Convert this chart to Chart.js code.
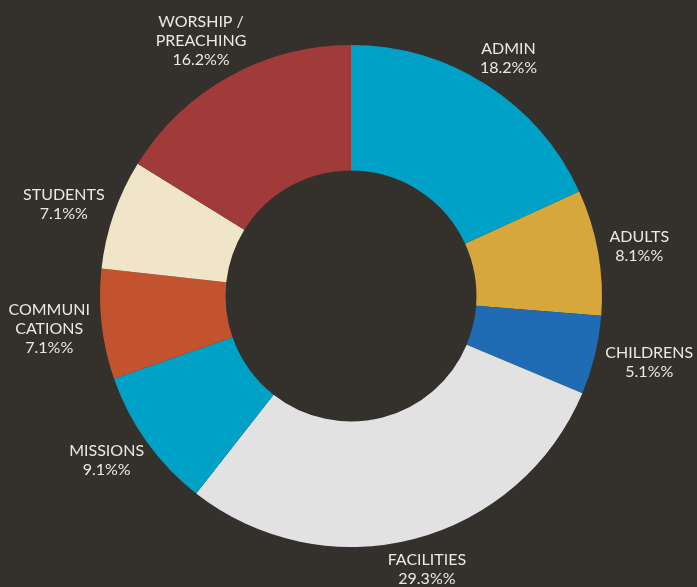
<!DOCTYPE html>
<html>
<head>
<meta charset="utf-8">
<script src="https://cdn.jsdelivr.net/npm/chart.js@4"></script>
<style>
  html, body { margin: 0; padding: 0; background: #34312c; }
  #wrap { width: 697px; height: 587px; position: relative; }
</style>
</head>
<body>
<div id="wrap"><canvas id="budgetChart"></canvas></div>
<script>
const categories = [['ADMIN'], ['ADULTS'], ['CHILDRENS'], ['FACILITIES'], ['MISSIONS'], ['COMMUNI', 'CATIONS'], ['STUDENTS'], ['WORSHIP /', 'PREACHING']];
const shares = [18.2, 8.1, 5.1, 29.3, 9.1, 7.1, 7.1, 16.2];
const sliceColors = ['#00a1c6', '#d6a83b', '#1f6cb4', '#e2e2e2', '#00a1c6', '#c3532f', '#f0e4c9', '#a03b3a'];

// draws "NAME\nxx.x%%" labels outside each slice
const outerLabels = {
    id: 'outerLabels',
    afterDatasetsDraw(chart) {
        const ctx = chart.ctx;
        const meta = chart.getDatasetMeta(0);
        const lineH = 19;
        ctx.save();
        ctx.font = '16px Lato';
        ctx.fillStyle = '#ebe9e4';
        ctx.textAlign = 'center';
        ctx.textBaseline = 'middle';
        meta.data.forEach((arc, i) => {
            const lines = categories[i].concat([shares[i].toFixed(1) + '%%']);
            const mid = (arc.startAngle + arc.endAngle) / 2;
            const r = arc.outerRadius + 12;
            const w = Math.max(...lines.map(l => ctx.measureText(l).width));
            const h = lines.length * lineH;
            const cx = arc.x + Math.cos(mid) * r + Math.cos(mid) * w / 2;
            const cy = arc.y + Math.sin(mid) * r + Math.sin(mid) * h / 2;
            lines.forEach((l, k) => {
                ctx.fillText(l, cx, cy - h / 2 + lineH / 2 + k * lineH);
            });
        });
        ctx.restore();
    }
};

const ctx = document.getElementById('budgetChart').getContext('2d');
new Chart(ctx, {
    type: 'doughnut',
    data: {
        labels: categories.map(c => c.join('')),
        datasets: [{
            data: shares,
            backgroundColor: sliceColors,
            borderWidth: 0
        }]
    },
    options: {
        responsive: true,
        maintainAspectRatio: false,
        animation: false,
        cutout: '50%',
        layout: { padding: { left: 100, right: 95, top: 45, bottom: 40 } },
        plugins: {
            legend: { display: false },
            tooltip: { enabled: false }
        }
    },
    plugins: [outerLabels]
});
</script>
</body>
</html>
